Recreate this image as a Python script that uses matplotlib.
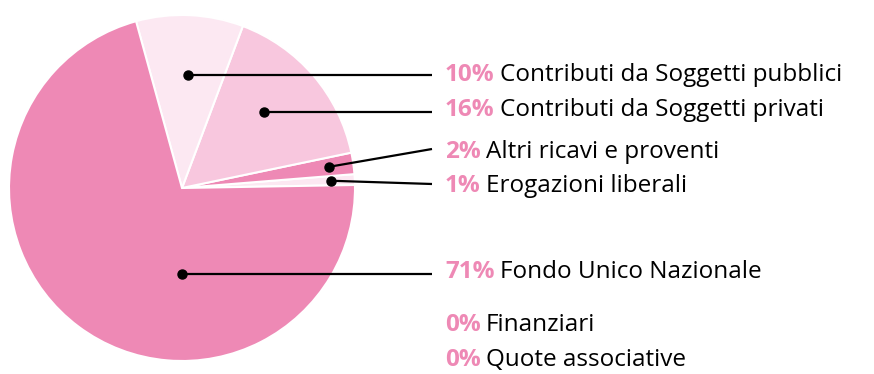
import numpy as np
import matplotlib.pyplot as plt

# revenue shares (percent), counter-clockwise from the 3 o'clock position
names = ["Erogazioni liberali", "Altri ricavi e proventi",
         "Contributi da Soggetti privati", "Contributi da Soggetti pubblici",
         "Fondo Unico Nazionale", "Finanziari", "Quote associative"]
shares = [1, 2, 16, 10, 71, 0, 0]
colors = ["#fce8f2", "#ee89b5", "#f8c7de", "#fce8f2", "#ee89b5", "#ee89b5", "#ee89b5"]

# label rows, top to bottom, as index into names
label_order = [3, 2, 1, 0, 4, 5, 6]
label_y = [75, 110, 152, 186, 272, 325, 360]   # pixels from top
line_y = [75, 112, 149, 184, 274]

W, H = 874, 374
PINK = "#ee89b5"
CX, CY, R = 182, H - 188, 173

plt.rcParams['font.family'] = ['Open Sans', 'DejaVu Sans']

fig = plt.figure(figsize=(W / 100, H / 100), dpi=100)
ax = fig.add_axes([0, 0, 1, 1])

idx = [i for i, s in enumerate(shares) if s > 0]
wedges, _ = ax.pie([shares[i] for i in idx], colors=[colors[i] for i in idx],
                   startangle=1, counterclock=True, center=(CX, CY), radius=R,
                   wedgeprops=dict(edgecolor="white", linewidth=1.5))
ax.set_xlim(0, W)
ax.set_ylim(0, H)
ax.axis("off")

wedge_of = {i: w for i, w in zip(idx, wedges)}


def anchor_point(w, y):
    # point inside the wedge on the row y, else the wedge middle
    t1, t2 = w.theta1, w.theta2
    if t2 - t1 > 20:
        xs = np.linspace(CX - R, CX + R, 800)
        dx, dy = xs - CX, y - CY
        r = np.hypot(dx, dy)
        ang = np.degrees(np.arctan2(dy, dx)) % 360
        inside = ((ang - t1) % 360 <= (t2 - t1)) & (r < 0.9 * R) & (r > 0.25 * R)
        if inside.sum() > 5:
            sel = xs[inside]
            return (sel.min() + sel.max()) / 2, y
    mid = np.radians((t1 + t2) / 2)
    return CX + 0.86 * R * np.cos(mid), CY + 0.86 * R * np.sin(mid)


renderer = fig.canvas.get_renderer()
for k, (i, ty) in enumerate(zip(label_order, label_y)):
    yy = H - ty
    if i in wedge_of:
        ly = H - line_y[k]
        px, py = anchor_point(wedge_of[i], ly)
        ax.plot([px, 432], [py, ly], color="black", lw=1.6, solid_capstyle="butt")
        ax.plot(px, py, "o", color="black", ms=6.5)
    t = ax.text(445, yy, f"{shares[i]}%", fontsize=17.5, fontweight="bold",
                color=PINK, va="center", ha="left")
    bb = t.get_window_extent(renderer)
    ax.text(bb.x1 + 5, yy, names[i], fontsize=17.5, color="black",
            va="center", ha="left")

fig.savefig("out.png", dpi=100)
